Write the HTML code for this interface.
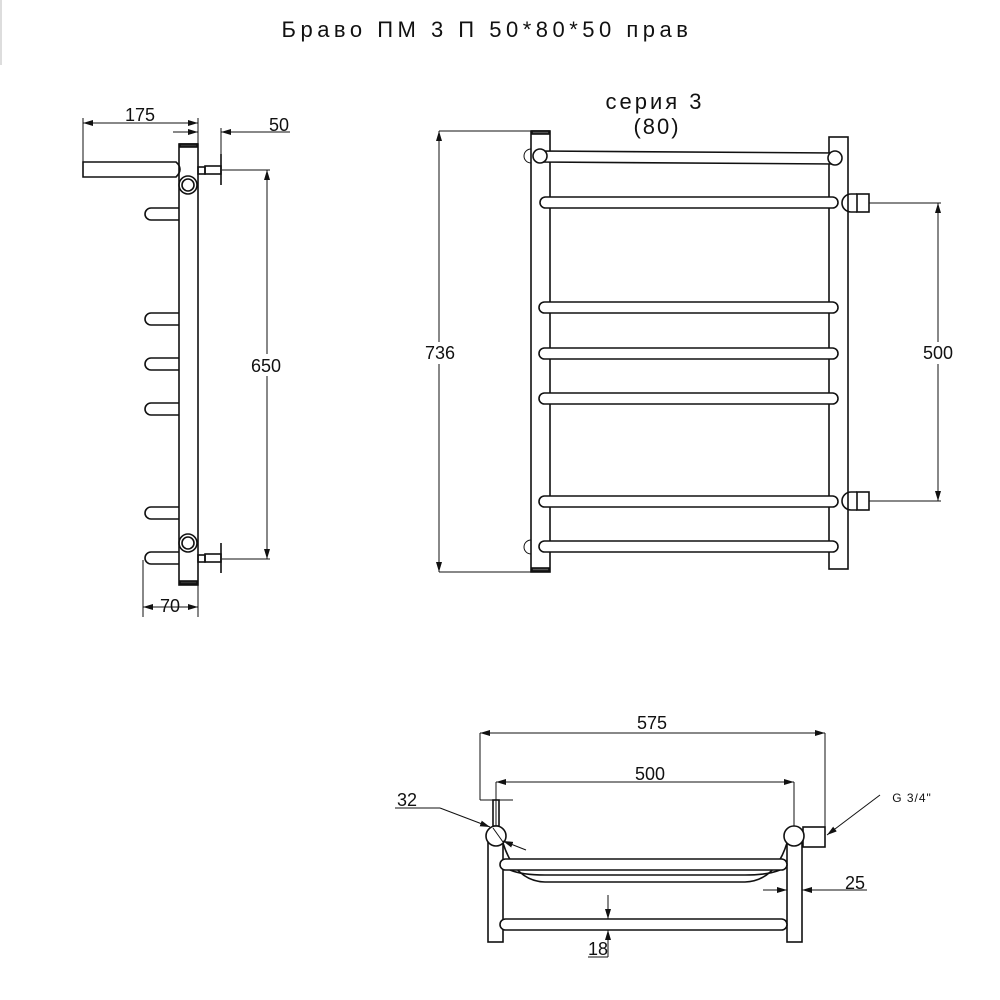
<!DOCTYPE html>
<html><head><meta charset="utf-8"><style>
html,body{margin:0;padding:0;background:#fff;}
svg{display:block;}
text{font-family:"Liberation Sans","DejaVu Sans",sans-serif;fill:#111;}
</style></head><body>
<svg width="1000" height="1000" viewBox="0 0 1000 1000" xmlns="http://www.w3.org/2000/svg">
<defs>
<marker id="a" viewBox="0 0 10 6" refX="10" refY="3" markerWidth="10" markerHeight="6" orient="auto-start-reverse" markerUnits="userSpaceOnUse"><path d="M0,0 L10,3 L0,6 z" fill="#111"/></marker>
</defs>
<rect x="0" y="0" width="2" height="65" fill="#ddd"/>
<text x="487" y="37" font-size="22" text-anchor="middle" letter-spacing="4.5">Браво ПМ 3 П 50*80*50 прав</text>

<g fill="none" stroke="#111" stroke-width="1.6">
<!-- LEFT VIEW -->
<rect x="179" y="144" width="19" height="441" fill="#fff"/>
<rect x="180" y="144" width="17" height="3" fill="#333"/>
<rect x="180" y="581" width="17" height="3" fill="#333"/>
<path d="M83,177 L83,162 L176,162 Q184,169 176,177 Z"/>
<circle cx="188" cy="185" r="9"/><circle cx="188" cy="185" r="6"/>
<circle cx="188" cy="543" r="9"/><circle cx="188" cy="543" r="6"/>
<path d="M179,208 L151,208 A6,6 0 0 0 151,220 L179,220"/>
<path d="M179,313 L151,313 A6,6 0 0 0 151,325 L179,325"/>
<path d="M179,358 L151,358 A6,6 0 0 0 151,370 L179,370"/>
<path d="M179,403 L151,403 A6,6 0 0 0 151,415 L179,415"/>
<path d="M179,507 L151,507 A6,6 0 0 0 151,519 L179,519"/>
<path d="M179,552 L151,552 A6,6 0 0 0 151,564 L179,564"/>
<rect x="198" y="167" width="7" height="7"/><rect x="205" y="166" width="16" height="8"/>
<line x1="221" y1="154" x2="221" y2="185"/>
<rect x="198" y="555" width="7" height="7"/><rect x="205" y="554" width="16" height="8"/>
<line x1="221" y1="543" x2="221" y2="573"/>
</g>
<g fill="none" stroke="#111" stroke-width="1">
<line x1="83" y1="118" x2="83" y2="162"/><line x1="198" y1="118" x2="198" y2="144"/>
<line x1="83" y1="123" x2="198" y2="123" marker-start="url(#a)" marker-end="url(#a)"/>
<line x1="173" y1="132" x2="198" y2="132" marker-end="url(#a)"/>
<line x1="290" y1="132" x2="221" y2="132" marker-end="url(#a)"/>
<line x1="221" y1="128" x2="221" y2="160"/>
<line x1="222" y1="170" x2="270" y2="170"/><line x1="222" y1="559" x2="270" y2="559"/>
<line x1="267" y1="170" x2="267" y2="559" marker-start="url(#a)" marker-end="url(#a)"/>
<line x1="143" y1="560" x2="143" y2="617"/><line x1="198" y1="585" x2="198" y2="617"/>
<line x1="143" y1="607" x2="198" y2="607" marker-start="url(#a)" marker-end="url(#a)"/>
</g>
<text x="140" y="121" font-size="18" text-anchor="middle">175</text>
<text x="279" y="131" font-size="18" text-anchor="middle">50</text>
<rect x="248" y="354" width="38" height="22" fill="#fff"/>
<text x="266" y="372" font-size="18" text-anchor="middle">650</text>
<text x="170" y="612" font-size="18" text-anchor="middle">70</text>

<!-- FRONT VIEW -->
<text x="655" y="109" font-size="22" text-anchor="middle" letter-spacing="3">серия 3</text>
<text x="657" y="134" font-size="22" text-anchor="middle" letter-spacing="2">(80)</text>
<g fill="none" stroke="#111" stroke-width="1.6">
<circle cx="531" cy="156" r="7" stroke-width="1"/><circle cx="531" cy="547" r="7" stroke-width="1"/>
<rect x="531" y="131" width="19" height="441" fill="#fff"/>
<rect x="532" y="131" width="17" height="3" fill="#555"/>
<rect x="532" y="568" width="17" height="3" fill="#555"/>
<rect x="829" y="137" width="19" height="432" fill="#fff"/>
<path d="M540,151 L835,153 L835,164 L540,162 Z" fill="#fff"/>
<circle cx="540" cy="156" r="7" fill="#fff"/><circle cx="835" cy="158" r="7" fill="#fff"/>
<rect x="540" y="197" width="298" height="11" rx="5.5" fill="#fff"/>
<rect x="539" y="302" width="299" height="11" rx="5.5" fill="#fff"/>
<rect x="539" y="348" width="299" height="11" rx="5.5" fill="#fff"/>
<rect x="539" y="393" width="299" height="11" rx="5.5" fill="#fff"/>
<rect x="539" y="496" width="299" height="11" rx="5.5" fill="#fff"/>
<rect x="539" y="541" width="299" height="11" rx="5.5" fill="#fff"/>
<path d="M857,194 L851,194 A9,9 0 0 0 851,212 L857,212"/>
<rect x="857" y="194" width="12" height="18"/>
<path d="M857,492 L851,492 A9,9 0 0 0 851,510 L857,510"/>
<rect x="857" y="492" width="12" height="18"/>
</g>
<g fill="none" stroke="#111" stroke-width="1">
<line x1="439" y1="131" x2="531" y2="131"/><line x1="439" y1="572" x2="531" y2="572"/>
<line x1="439" y1="131" x2="439" y2="572" marker-start="url(#a)" marker-end="url(#a)"/>
<line x1="869" y1="203" x2="941" y2="203"/><line x1="869" y1="501" x2="941" y2="501"/>
<line x1="938" y1="203" x2="938" y2="501" marker-start="url(#a)" marker-end="url(#a)"/>
</g>
<rect x="421" y="342" width="38" height="22" fill="#fff"/>
<text x="440" y="359" font-size="18" text-anchor="middle">736</text>
<rect x="919" y="342" width="38" height="22" fill="#fff"/>
<text x="938" y="359" font-size="18" text-anchor="middle">500</text>

<!-- BOTTOM VIEW -->
<g fill="none" stroke="#111" stroke-width="1.6">
<rect x="488" y="836" width="15" height="106" fill="#fff"/>
<rect x="787" y="836" width="15" height="106" fill="#fff"/>
<path d="M503,843 Q515,881 545,882 L745,882 Q775,881 787,843"/>
<path d="M510,870 Q522,875 545,875 L745,875 Q768,875 780,870"/>
<rect x="500" y="859" width="287" height="11" rx="5.5" fill="#fff"/>
<rect x="500" y="919" width="287" height="11" rx="5.5" fill="#fff"/>
<rect x="493" y="800" width="6" height="26"/>
<circle cx="496" cy="836" r="10" fill="#fff"/>
<rect x="803" y="827" width="22" height="20"/>
<circle cx="794" cy="836" r="10" fill="#fff"/>
</g>
<g fill="none" stroke="#111" stroke-width="1">
<line x1="480" y1="733" x2="480" y2="800"/><line x1="480" y1="800" x2="513" y2="800"/>
<line x1="825" y1="733" x2="825" y2="828"/>
<line x1="480" y1="733" x2="825" y2="733" marker-start="url(#a)" marker-end="url(#a)"/>
<line x1="496" y1="782" x2="496" y2="826"/><line x1="794" y1="782" x2="794" y2="826"/>
<line x1="496" y1="782" x2="794" y2="782" marker-start="url(#a)" marker-end="url(#a)"/>
<line x1="395" y1="808" x2="440" y2="808"/>
<line x1="440" y1="808" x2="490" y2="827" marker-end="url(#a)"/>
<line x1="526" y1="850" x2="503" y2="841" marker-end="url(#a)"/>
<line x1="493" y1="828" x2="503" y2="842"/>
<line x1="880" y1="795" x2="827" y2="835" marker-end="url(#a)"/>
<line x1="763" y1="890" x2="787" y2="890" marker-end="url(#a)"/>
<line x1="867" y1="890" x2="802" y2="890" marker-end="url(#a)"/>
<line x1="608" y1="895" x2="608" y2="919" marker-end="url(#a)"/>
<line x1="608" y1="957" x2="608" y2="930" marker-end="url(#a)"/>
<line x1="588" y1="957" x2="608" y2="957"/>
<line x1="840" y1="890" x2="867" y2="890"/>
</g>
<text x="652" y="729" font-size="18" text-anchor="middle">575</text>
<text x="650" y="780" font-size="18" text-anchor="middle">500</text>
<text x="407" y="806" font-size="18" text-anchor="middle">32</text>
<text x="912" y="802" font-size="12" text-anchor="middle" letter-spacing="1">G 3/4"</text>
<text x="855" y="889" font-size="18" text-anchor="middle">25</text>
<text x="598" y="955" font-size="18" text-anchor="middle">18</text>
</svg>
</body></html>
